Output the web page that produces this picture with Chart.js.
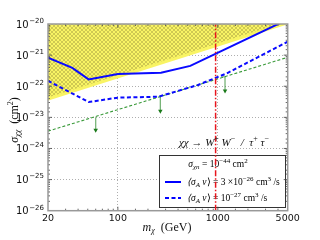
<!DOCTYPE html>
<html>
<head>
<meta charset="utf-8">
<script src="https://cdn.jsdelivr.net/npm/chart.js@4.4.1/dist/chart.umd.min.js"></script>
<style>
  html, body { margin: 0; padding: 0; background: #fff; }
  #wrap { width: 320px; height: 240px; }
</style>
</head>
<body>
<div id="wrap"><canvas id="myChart" width="320" height="240"></canvas></div>
<script>
// values (mass in GeV, cross section in cm^2)
var massSolid = [20, 35, 51, 100, 270, 530, 5000];
var sigmaSolid = [8.3e-22, 3.9e-22, 1.66e-22, 2.46e-22, 2.7e-22, 4.5e-22, 1.4e-20];

var massDashed = [20, 51, 100, 254, 635, 1230, 5000];
var sigmaDashed = [1.5e-22, 3.1e-23, 4.3e-23, 4.6e-23, 1.1e-22, 2.6e-22, 2.7e-21];

var massGreen = [20, 5000];
var sigmaGreen = [3.6e-24, 8.5e-22];

var massExcluded = [20, 5000];
var sigmaExcluded = [3.9e-23, 1.1e-20];

var massRed = 950;

var arrowStart = [60, 266, 1110];
var arrowMass = [60, 266, 1180];
var arrowTop = [1.0e-23, 4.6e-23, 2.0e-22];
var arrowBottom = [3.9e-24, 1.58e-23, 7.1e-23];

var xLabels = [20, 100, 1000, 5000];
var xMajor = [100, 1000];

function toPts(xs, ys) {
    var out = [];
    for (var i = 0; i < xs.length; i++) out.push({x: xs[i], y: ys[i]});
    return out;
}

function isDecade(v) {
    var l = Math.log10(v);
    return Math.abs(l - Math.round(l)) < 1e-6;
}

function hatch() {
    var c = document.createElement('canvas');
    c.width = 4; c.height = 4;
    var g = c.getContext('2d');
    g.fillStyle = '#f9f464';
    g.fillRect(0, 0, 4, 4);
    g.strokeStyle = 'rgba(130,120,50,0.5)';
    g.lineWidth = 0.7;
    g.beginPath();
    g.moveTo(-1, -1); g.lineTo(5, 5);
    g.moveTo(5, -1); g.lineTo(-1, 5);
    g.stroke();
    return g.createPattern(c, 'repeat');
}

function fontFor(p, size) {
    var s = p[2] ? Math.round(size * 0.7) : size;
    return (p[1] ? 'italic ' : '') + s + 'px "Liberation Serif"';
}

function drawRich(ctx, x, y, parts, size, align) {
    var w = 0;
    parts.forEach(function (p) { ctx.font = fontFor(p, size); w += ctx.measureText(p[0]).width; });
    var cx = align === 'center' ? x - w / 2 : x;
    ctx.textBaseline = 'middle';
    ctx.textAlign = 'left';
    parts.forEach(function (p) {
        ctx.font = fontFor(p, size);
        var dy = p[2] === 'sup' ? -size * 0.35 : (p[2] === 'sub' ? size * 0.28 : 0);
        ctx.fillText(p[0], cx, y + dy);
        cx += ctx.measureText(p[0]).width;
    });
}

var arrowSets = [];
for (var i = 0; i < arrowMass.length; i++) {
    arrowSets.push({
        data: [{x: arrowStart[i], y: arrowTop[i]}, {x: arrowMass[i], y: arrowTop[i]}, {x: arrowMass[i], y: arrowBottom[i]}],
        showLine: true,
        borderColor: 'rgba(30,130,30,0.6)',
        borderWidth: 1.3,
        pointRadius: [0, 0, 2.6],
        pointStyle: 'triangle',
        rotation: 180,
        pointBackgroundColor: '#1a7a1a',
        pointBorderColor: '#1a7a1a',
        pointBorderWidth: 0
    });
}

var decorPlugin = {
    id: 'decor',
    beforeDatasetsDraw: function (chart) {
        var ctx = chart.ctx;
        ctx.save();
        // legend box
        ctx.fillStyle = '#fff';
        ctx.fillRect(159, 155, 126, 52);
        ctx.strokeStyle = '#333';
        ctx.lineWidth = 1;
        ctx.strokeRect(159.5, 155.5, 126, 52);
        ctx.fillStyle = '#000';
        drawRich(ctx, 218, 164, [['\u03C3', true], ['\u03C7n', true, 'sub'], [' = 10', false], ['\u221244', false, 'sup'], [' cm', false], ['2', false, 'sup']], 9.5, 'center');
        drawRich(ctx, 187, 182, [['\u27E8\u03C3', true], ['A', true, 'sub'], [' v', true], ['\u27E9 = 3 \u00D710', false], ['\u221226', false, 'sup'], [' cm', false], ['3', false, 'sup'], [' /s', false]], 9.5, 'left');
        drawRich(ctx, 187, 198, [['\u27E8\u03C3', true], ['A', true, 'sub'], [' v', true], ['\u27E9 = 10', false], ['\u221227', false, 'sup'], [' cm', false], ['3', false, 'sup'], [' /s', false]], 9.5, 'left');
        ctx.strokeStyle = '#0000ff';
        ctx.lineWidth = 2;
        ctx.beginPath(); ctx.moveTo(165, 182); ctx.lineTo(181, 182); ctx.stroke();
        ctx.setLineDash([4, 2.5]);
        ctx.beginPath(); ctx.moveTo(165, 198); ctx.lineTo(181, 198); ctx.stroke();
        ctx.restore();
    },
    afterDraw: function (chart) {
        var ctx = chart.ctx;
        var a = chart.chartArea;
        var xs = chart.scales.x, ys = chart.scales.y;
        ctx.save();
        // inward ticks on all four sides
        ctx.strokeStyle = '#444';
        ctx.lineWidth = 0.8;
        ctx.beginPath();
        xs.ticks.forEach(function (t) {
            var px = xs.getPixelForValue(t.value);
            if (px <= a.left + 1 || px >= a.right - 1) return;
            var len = xMajor.indexOf(t.value) >= 0 ? 4 : 2;
            ctx.moveTo(px, a.bottom); ctx.lineTo(px, a.bottom - len);
            ctx.moveTo(px, a.top); ctx.lineTo(px, a.top + len);
        });
        ys.ticks.forEach(function (t) {
            var py = ys.getPixelForValue(t.value);
            if (py <= a.top + 1 || py >= a.bottom - 1) return;
            var len = isDecade(t.value) ? 4 : 2;
            ctx.moveTo(a.left, py); ctx.lineTo(a.left + len, py);
            ctx.moveTo(a.right, py); ctx.lineTo(a.right - len, py);
        });
        ctx.stroke();
        // frame
        ctx.strokeStyle = '#999';
        ctx.lineWidth = 1.5;
        ctx.strokeRect(a.left, a.top, a.right - a.left, a.bottom - a.top);
        // y tick labels: 10 with raised exponent
        ctx.fillStyle = '#111';
        ctx.textBaseline = 'middle';
        var done = {};
        ys.ticks.forEach(function (t) {
            if (!isDecade(t.value)) return;
            var n = Math.round(Math.log10(t.value));
            if (done[n]) return;
            done[n] = true;
            var py = ys.getPixelForValue(Math.pow(10, n));
            var e = '\u2212' + String(-n);
            ctx.textAlign = 'right';
            ctx.font = '7px "DejaVu Sans"';
            ctx.fillText(e, a.left - 4, py - 3);
            var ew = ctx.measureText(e).width;
            ctx.font = '10px "DejaVu Sans"';
            ctx.fillText('10', a.left - 4.5 - ew, py + 1);
        });
        // annotation
        drawRich(ctx, 224, 143, [['\u03C7\u03C7 \u2192 W', true], ['+', false, 'sup'], [' W', true], ['\u2212', false, 'sup'], ['  /  \u03C4', true], ['+', false, 'sup'], [' \u03C4', true], ['\u2212', false, 'sup']], 11, 'center');
        // axis titles
        drawRich(ctx, 167, 228, [['m', true], ['\u03C7', true, 'sub'], ['  (GeV)', false]], 12, 'center');
        ctx.translate(15, 120);
        ctx.rotate(-Math.PI / 2);
        drawRich(ctx, 0, 0, [['\u03C3', true], ['\u03C7\u03C7', true, 'sub'], ['  (cm', false], ['2', false, 'sup'], [')', false]], 12, 'center');
        ctx.restore();
    }
};

var ctx = document.getElementById('myChart').getContext('2d');
var myChart = new Chart(ctx, {
    type: 'scatter',
    data: {
        datasets: [
            {data: [{x: massRed, y: 1e-26}, {x: massRed, y: 1e-20}], showLine: true, borderColor: '#e8141c', borderWidth: 1.5, borderDash: [6, 2, 1.5, 2], pointRadius: 0}
        ].concat(arrowSets).concat([
            {data: toPts(massSolid, sigmaSolid), showLine: true, borderColor: '#0a0aff', borderWidth: 2, pointRadius: 0},
            {data: toPts(massDashed, sigmaDashed), showLine: true, borderColor: '#0a0aff', borderWidth: 2, borderDash: [4, 2.5], pointRadius: 0},
            {data: toPts(massGreen, sigmaGreen), showLine: true, borderColor: '#3a9a3a', borderWidth: 1.1, borderDash: [3, 2], pointRadius: 0},
            {data: toPts(massExcluded, sigmaExcluded), showLine: true, borderColor: '#f9f464', borderWidth: 3, backgroundColor: hatch(), fill: 'end', pointRadius: 0}
        ])
    },
    options: {
        responsive: false,
        animation: false,
        events: [],
        layout: {padding: {top: 24, right: 32.3, left: 0, bottom: 0}},
        plugins: {legend: {display: false}, tooltip: {enabled: false}},
        scales: {
            x: {
                type: 'logarithmic', min: 20, max: 5000,
                afterFit: function (s) { s.height = 29.3; },
                border: {display: false, dash: [1, 2]},
                grid: {
                    drawTicks: false,
                    color: function (c) { return c.tick && xMajor.indexOf(c.tick.value) >= 0 ? 'rgba(0,0,0,0.4)' : 'rgba(0,0,0,0)'; },
                    lineWidth: 0.8
                },
                ticks: {
                    autoSkip: false, maxRotation: 0, padding: 2, color: '#111',
                    font: {family: 'DejaVu Sans', size: 9.5},
                    callback: function (v) { return xLabels.indexOf(v) >= 0 ? String(v) : ''; }
                }
            },
            y: {
                type: 'logarithmic', min: 1e-26, max: 1e-20,
                afterFit: function (s) { s.width = 48; },
                border: {display: false, dash: [1, 2]},
                grid: {
                    drawTicks: false,
                    color: function (c) {
                        if (!c.tick) return 'rgba(0,0,0,0)';
                        var v = c.tick.value;
                        return isDecade(v) && v > 1.5e-26 && v < 0.9e-20 ? 'rgba(0,0,0,0.4)' : 'rgba(0,0,0,0)';
                    },
                    lineWidth: 0.8
                },
                ticks: {
                    autoSkip: false,
                    callback: function () { return ''; }
                }
            }
        }
    },
    plugins: [decorPlugin]
});
</script>
</body>
</html>
